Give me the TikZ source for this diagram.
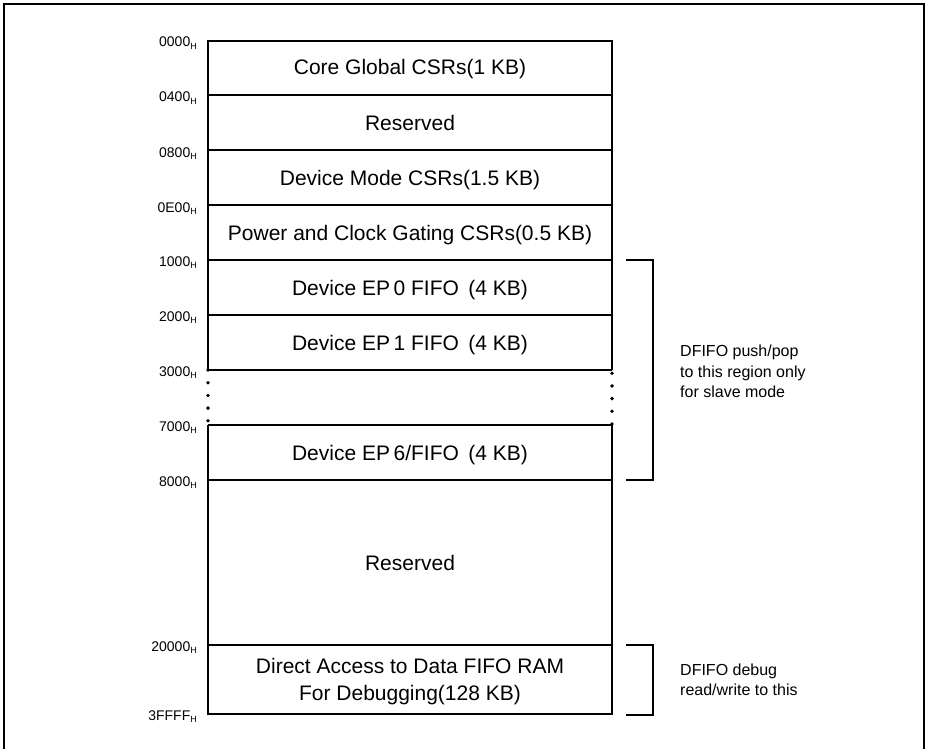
\documentclass[tikz,border=0pt]{standalone}
\usepackage{fontspec}
\setmainfont{Liberation Sans}
\newcommand{\addrlbl}[1]{{\fontsize{14}{16}\selectfont #1}\raisebox{-2.5pt}{\fontsize{9}{10}\selectfont H}}
\begin{document}
\begin{tikzpicture}[x=1pt,y=-1pt,
  boxline/.style={line width=2pt},
  boxtxt/.style={font=\fontsize{21}{25}\selectfont, anchor=base, inner sep=0pt},
  addr/.style={anchor=base east, inner sep=0pt},
  note/.style={font=\fontsize{16}{20}\selectfont, anchor=base west, inner sep=0pt},
  bracketline/.style={line width=2pt},
  dotline/.style={line width=3.8pt, line cap=round, dash pattern=on 0pt off 12.7pt}]
\useasboundingbox (0,0) rectangle (925,749);
% outer frame
\draw[line width=2pt] (4,749) -- (4,4) -- (923.5,4) -- (923.5,749);
% memory map box
\draw[boxline] (208,370) -- (208,41) -- (612,41) -- (612,370);
\foreach \yy in {95,150,205,260,315,370}
  \draw[boxline] (208,\yy) -- (612,\yy);
\draw[boxline] (208,425) -- (208,714) -- (612,714) -- (612,425);
\foreach \yy in {425,480,645}
  \draw[boxline] (208,\yy) -- (612,\yy);
% dotted gaps
\draw[dotline] (208,370) -- (208,425);
\draw[dotline] (612,424) -- (612,370);
% region texts
\node[boxtxt] (r1) at (410,75) {Core Global CSRs(1 KB)};
\node[boxtxt] (r2) at (410,130) {Reserved};
\node[boxtxt] (r3) at (410,185) {Device Mode CSRs(1.5 KB)};
\node[boxtxt] (r4) at (410,240) {Power and Clock Gating CSRs(0.5 KB)};
\node[boxtxt] (r5) at (410,295) {Device EP\,0 FIFO\hspace{0.45em}(4 KB)};
\node[boxtxt] (r6) at (410,350) {Device EP\,1 FIFO\hspace{0.45em}(4 KB)};
\node[boxtxt] (r7) at (410,460) {Device EP\,6/FIFO\hspace{0.45em}(4 KB)};
\node[boxtxt] (r8) at (410,570) {Reserved};
\node[boxtxt] (r9a) at (410,673) {Direct Access to Data FIFO RAM};
\node[boxtxt] (r9b) at (410,700) {For Debugging(128 KB)};
% address labels
\node[addr] (a0) at (197,47) {\addrlbl{0000}};
\node[addr] (a1) at (197,102) {\addrlbl{0400}};
\node[addr] (a2) at (197,157) {\addrlbl{0800}};
\node[addr] (a3) at (197,212) {\addrlbl{0E00}};
\node[addr] (a4) at (197,266) {\addrlbl{1000}};
\node[addr] (a5) at (197,321) {\addrlbl{2000}};
\node[addr] (a6) at (197,376) {\addrlbl{3000}};
\node[addr] (a7) at (197,431) {\addrlbl{7000}};
\node[addr] (a8) at (197,486) {\addrlbl{8000}};
\node[addr] (a9) at (197,651) {\addrlbl{20000}};
\node[addr] (a10) at (197,720) {\addrlbl{3FFFF}};
% brackets
\coordinate (b1t) at (626,260);
\coordinate (b1b) at (626,480);
\draw[bracketline] (b1t) -- (653,260) -- (653,480) -- (b1b);
\coordinate (b2t) at (626,645);
\coordinate (b2b) at (626,715);
\draw[bracketline] (b2t) -- (653,645) -- (653,715) -- (b2b);
% notes
\node[note] (n1) at (680,356) {DFIFO push/pop};
\node[note] (n2) at (680,377) {to this region only};
\node[note] (n3) at (680,397) {for slave mode};
\node[note] (n4) at (680,675) {DFIFO debug};
\node[note] (n5) at (680,695) {read/write to this};
\end{tikzpicture}
\end{document}
